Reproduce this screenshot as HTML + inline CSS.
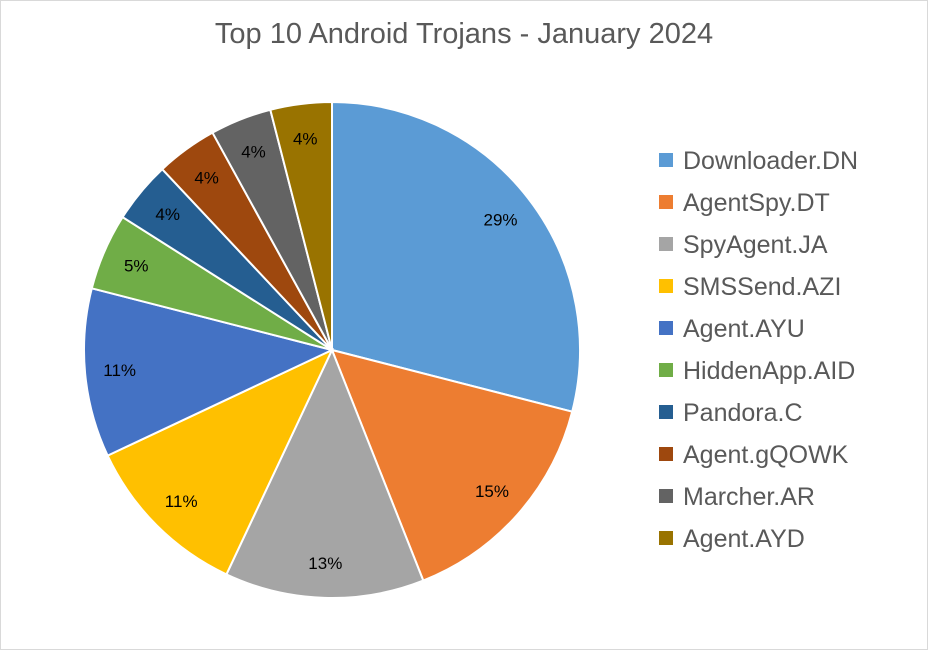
<!DOCTYPE html>
<html><head><meta charset="utf-8"><style>
body{margin:0;background:#fff}
svg{display:block;font-family:"Liberation Sans",Arial,sans-serif}
</style></head><body>
<svg width="928" height="650" viewBox="0 0 928 650">
<rect x="0.5" y="0.5" width="927" height="649" fill="#fff" stroke="#d9d9d9"/>
<text x="464" y="43" text-anchor="middle" font-size="29" fill="#595959">Top 10 Android Trojans - January 2024</text>
<g id="slices"></g>
<g id="labels"></g>
<g id="legend"></g>
</svg>
<script>
const categories=["Downloader.DN","AgentSpy.DT","SpyAgent.JA","SMSSend.AZI","Agent.AYU","HiddenApp.AID","Pandora.C","Agent.gQOWK","Marcher.AR","Agent.AYD"];
const values=[29,15,13,11,11,5,4,4,4,4];
const valueLabels=["29%","15%","13%","11%","11%","5%","4%","4%","4%","4%"];
const colors=["#5b9bd5","#ed7d31","#a5a5a5","#ffc000","#4472c4","#70ad47","#255e91","#9e480e","#636363","#997300"];
const ns="http://www.w3.org/2000/svg";
const cx=332,cy=350,r=248;
const total=values.reduce((a,b)=>a+b,0);
const sg=document.getElementById('slices'),lg=document.getElementById('labels'),leg=document.getElementById('legend');
function pt(a,rr){return [cx+rr*Math.sin(a),cy-rr*Math.cos(a)];}
let acc=0;
values.forEach((v,i)=>{
  const a0=acc/total*2*Math.PI;acc+=v;const a1=acc/total*2*Math.PI;
  const p0=pt(a0,r),p1=pt(a1,r);
  const large=(a1-a0)>Math.PI?1:0;
  const p=document.createElementNS(ns,'path');
  p.setAttribute('d',`M${cx},${cy}L${p0[0]},${p0[1]}A${r},${r} 0 ${large} 1 ${p1[0]},${p1[1]}Z`);
  p.setAttribute('fill',colors[i]);p.setAttribute('stroke','#fff');p.setAttribute('stroke-width','2');
  
  
  sg.appendChild(p);
  const am=(a0+a1)/2;const lp=pt(am,r*0.86);
  const t=document.createElementNS(ns,'text');
  t.setAttribute('x',lp[0]);t.setAttribute('y',lp[1]+6);t.setAttribute('text-anchor','middle');
  t.setAttribute('font-size','17');t.setAttribute('fill','#000');
  t.textContent=valueLabels[i];
  
  
  lg.appendChild(t);
  const y=160+i*42;
  const g=document.createElementNS(ns,'g');
  
  
  const s=document.createElementNS(ns,'rect');
  s.setAttribute('x',659);s.setAttribute('y',y-7);s.setAttribute('width',14);s.setAttribute('height',14);s.setAttribute('fill',colors[i]);
  
  
  const lt=document.createElementNS(ns,'text');
  lt.setAttribute('x',683);lt.setAttribute('y',y+9);lt.setAttribute('font-size','25');lt.setAttribute('fill','#595959');
  lt.textContent=categories[i];
  
  
  g.appendChild(s);g.appendChild(lt);leg.appendChild(g);
});
</script>
</body></html>
